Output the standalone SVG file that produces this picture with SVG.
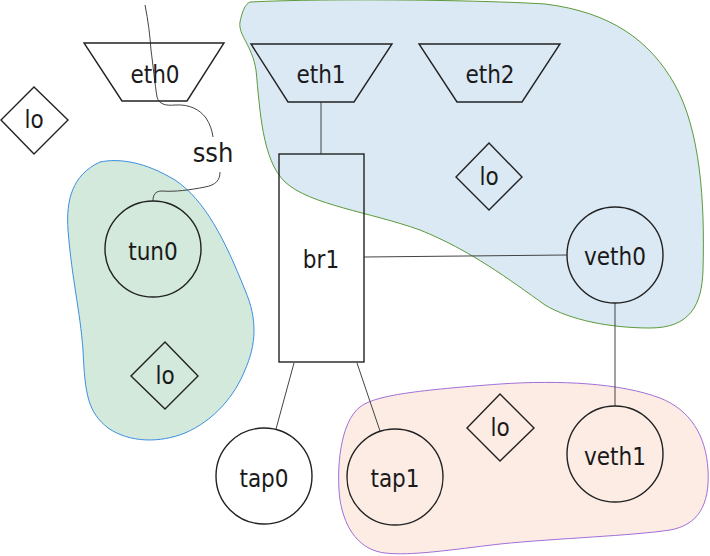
<svg xmlns="http://www.w3.org/2000/svg" width="710" height="556" viewBox="0 0 710 556">
<style>
.n{fill:none;stroke:#222;stroke-width:1.4}
.t{font-family:"DejaVu Sans Condensed","DejaVu Sans",sans-serif;font-stretch:condensed;font-size:24px;fill:#1a1a1a;text-anchor:middle}
.c{fill:none;stroke:#444;stroke-width:1}
</style>
<rect width="710" height="556" fill="#fff"/>
<g id="zones">
<path id="zone-blue" d="M250,2 C330,-2 480,0 545,4 C610,12 650,40 675,85 C700,130 705,200 703,270 C702,305 690,328 650,328 C610,328 570,320 545,305 C510,280 470,250 420,230 C370,212 310,205 285,182 C262,160 260,110 256,70 C252,45 238,35 240,22 C242,12 245,4 250,2 Z" fill="#dae9f4" stroke="#5c9a3a" stroke-width="1"/>
<path id="zone-green" d="M100,162 C120,158 145,162 175,180 C205,200 225,240 245,290 C258,320 256,345 245,370 C235,395 215,420 185,433 C160,443 130,443 108,428 C88,412 85,395 83,350 C80,310 72,280 68,230 C66,200 72,175 100,162 Z" fill="#d2e9dc" stroke="#3c8fe0" stroke-width="1"/>
<path id="zone-pink" d="M360,407 C375,395 420,390 500,384 C560,380 620,383 660,398 C690,410 706,435 708,470 C710,505 698,525 670,530 C630,536 560,538 500,544 C450,550 410,556 385,553 C360,550 345,530 340,500 C336,470 340,422 360,407 Z" fill="#fdece4" stroke="#a070d8" stroke-width="1"/>
</g>
<g id="connectors">
<path class="c" d="M321,102 L321,154"/>
<path class="c" d="M364,257 L567,255"/>
<path class="c" d="M615,303 L615,406"/>
<path class="c" d="M294,363 L276,429"/>
<path class="c" d="M357,363 L380,431"/>
<path class="c" d="M145,5 C148,20 150,35 151,50 C153,65 155,85 157,97 C159,104 165,106 175,105 C190,104 200,110 206,118 C210,124 212,130 213,137"/>
<path class="c" d="M220,172 C220,180 216,185 205,187 C190,190 175,192 162,191 C155,191 153,195 153,201"/>
</g>
<g id="eth0"><path class="n" d="M84,43 L224,43 L187,101 L122,101 Z"/><text class="t" x="155" y="83">eth0</text></g>
<g id="lo0"><path class="n" d="M34,87 L68,120 L34,154 L1,120 Z"/><text class="t" x="34" y="128">lo</text></g>
<g id="eth1"><path class="n" d="M251,44 L392,44 L354,102 L288,102 Z"/><text class="t" x="321" y="83">eth1</text></g>
<g id="eth2"><path class="n" d="M419,44 L560,44 L522,102 L457,102 Z"/><text class="t" x="490" y="83">eth2</text></g>
<g id="br1"><rect class="n" x="279" y="154" width="85" height="208"/><text class="t" x="321" y="268">br1</text></g>
<g id="lo1"><path class="n" d="M489,143 L522,177 L489,210 L456,177 Z"/><text class="t" x="489" y="185">lo</text></g>
<g id="veth0"><circle class="n" cx="615" cy="255" r="48"/><text class="t" x="615" y="265">veth0</text></g>
<g id="veth1"><circle class="n" cx="615" cy="454" r="48"/><text class="t" x="615" y="465">veth1</text></g>
<g id="tap0"><circle class="n" cx="264" cy="476" r="48"/><text class="t" x="264" y="487">tap0</text></g>
<g id="tap1"><circle class="n" cx="395" cy="477" r="48"/><text class="t" x="395" y="487">tap1</text></g>
<g id="lo2"><path class="n" d="M500,394 L534,428 L500,461 L467,428 Z"/><text class="t" x="500" y="436">lo</text></g>
<g id="tun0"><circle class="n" cx="153" cy="249" r="48"/><text class="t" x="153" y="260">tun0</text></g>
<g id="lo3"><path class="n" d="M165,342 L198,376 L165,409 L131,376 Z"/><text class="t" x="165" y="384">lo</text></g>
<g id="ssh"><text class="t" x="213" y="162" style="font-size:27px">ssh</text></g>
</svg>
